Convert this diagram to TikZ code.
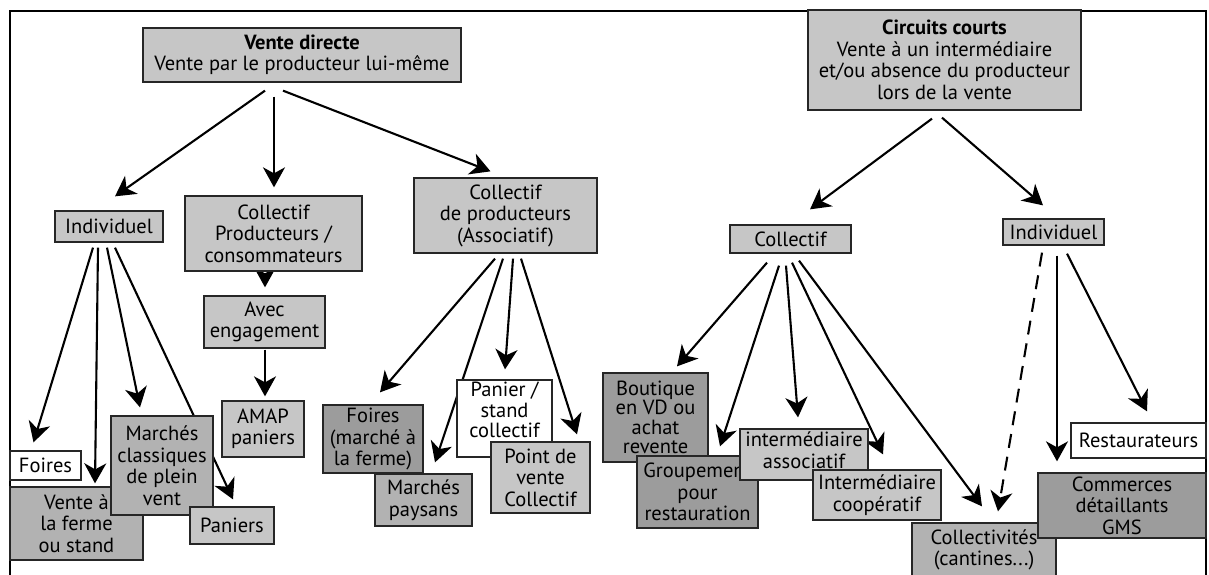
\documentclass[tikz,border=0pt]{standalone}
\usepackage{fontspec}
\setmainfont{PT Sans}
\usetikzlibrary{calc,arrows.meta}
\pgfdeclarelayer{bg}
\pgfsetlayers{bg,main}
\definecolor{gA}{HTML}{C6C6C6}
\definecolor{gB}{HTML}{B2B2B2}
\definecolor{gC}{HTML}{9C9C9C}
\tikzset{
  bx/.style={draw=black!85, line width=1.3pt, inner sep=0pt, align=center,
    font=\fontsize{20.5}{21.5}\selectfont},
  lt/.style={bx, fill=gA},
  md/.style={bx, fill=gB},
  dk/.style={bx, fill=gC},
  wt/.style={bx, fill=white},
  arr/.style={line width=2.1pt, -{Stealth[length=20pt,width=22pt,inset=6pt]}},
  frame/.style={line width=1.6pt}
}
% \bxn[extra]{style}{x1}{y1}{x2}{y2}{name}{text}
\newcommand\bxn[7][]{%
  \node[#2, #1, minimum width={(#5-#3)*1pt}, minimum height={(#6-#4)*1pt}]
    (#7) at ({(#3+#5)/2},{(#4+#6)/2})}
\begin{document}
\begin{tikzpicture}[x=1pt,y=-1pt]
\useasboundingbox (0,0) rectangle (1209,575);
\begin{pgfonlayer}{bg}
\fill[white] (0,0) rectangle (1209,575);
\end{pgfonlayer}
\draw[frame] (10,576) -- (10,11) -- (1206,11) -- (1206,576);

% left part
\bxn{lt}{143}{28}{461}{82}{vd} {\textbf{Vente directe}\\Vente par le producteur lui-même};
\bxn{lt}{55}{211}{163}{242}{ind1} {Individuel};
\bxn{lt}{185}{196}{362}{271}{cpc} {Collectif\\Producteurs /\\consommateurs};
\bxn{lt}{204}{296}{325}{348}{avec} {Avec\\engagement};
\bxn{lt}{222}{401}{304}{457}{amap} {AMAP\\paniers};
\bxn{wt}{10}{451}{81}{480}{foi} {Foires};
\bxn{md}{10}{487}{143}{560}{vaf} {Vente à\\la ferme\\ou stand};
\bxn{md}{111}{416}{213}{515}{mc} {Marchés\\classiques\\de plein\\vent};
\bxn{lt}{190}{507}{274}{544}{pan} {Paniers};

\bxn{lt}{414}{178}{597}{253}{cdp} {Collectif\\de producteurs\\(Associatif)};
\bxn{dk}{323}{405}{423}{473}{fm} {Foires\\(marché à\\la ferme)};
\bxn{md}{375}{474}{472}{526}{mp} {Marchés\\paysans};
\bxn[font=\fontsize{20.5}{20.5}\selectfont, text depth=17pt]{wt}{457}{380}{552}{457}{psc} {Panier /\\stand\\collectif};
\bxn{lt}{491}{442}{590}{513}{pvc} {Point de\\vente\\Collectif};

% right part
\bxn{lt}{808}{10}{1081}{110}{cc} {\textbf{Circuits courts}\\Vente à un intermédiaire\\et/ou absence du producteur\\lors de la vente};
\bxn{lt}{730}{225}{851}{253}{col} {Collectif};
\bxn{lt}{1003}{219}{1104}{245}{ind2} {Individuel};
\bxn[font=\fontsize{20.5}{19.5}\selectfont]{dk}{603}{373}{708}{462}{bvd} {Boutique\\en VD ou\\achat\\revente};
\bxn{dk}{637}{456}{758}{528}{grp} {Groupement\\pour\\restauration};
\bxn[text depth=9pt]{lt}{740}{429}{868}{480}{ia} {intermédiaire\\associatif};
\bxn{lt}{813}{470}{941}{520}{ic} {Intermédiaire\\coopératif};
\bxn{md}{912}{523}{1056}{577}{clt} {Collectivités\\(cantines...)};
\bxn{wt}{1071}{423}{1206}{458}{rest} {Restaurateurs};
\bxn{dk}{1038}{473}{1206}{538}{cds} {Commerces\\détaillants\\GMS};

\begin{pgfonlayer}{bg}
\draw[arr] ($(vd.south)+(-37,8)$) -- ($(ind1.north)+(6,-14)$);
\draw[arr] ($(vd.south)+(-28,14)$) -- ($(cpc.north)+(0.5,-8)$);
\draw[arr] ($(vd.south)+(-19,8)$) -- ($(cdp.north)+(-15,-6)$);
\draw[arr] ($(cpc.south)+(-8.5,1)$) -- ($(avec.north)+(0.5,-8)$);
\draw[arr] ($(avec.south)+(0.5,1)$) -- ($(amap.north)+(2,-4)$);
\draw[arr] ($(ind1.south)+(-16,5)$) -- ($(foi.north)+(-12,-8)$);
\draw[arr] ($(ind1.south)+(-11,5)$) -- ($(vaf.north)+(18.5,-3)$);
\draw[arr] ($(ind1.south)+(-2,5)$) -- ($(mc.north)+(-22,-8)$);
\draw[arr] ($(ind1.south)+(6,5)$) -- ($(pan.north)+(1,-7)$);
\draw[arr] ($(cdp.south)+(-10.5,5)$) -- ($(fm.north)+(7,-12)$);
\draw[arr] ($(cdp.south)+(-2.5,5)$) -- ($(mp.north)+(11.5,-11)$);
\draw[arr] ($(cdp.south)+(7.5,5)$) -- ($(psc.north)+(0.5,-10)$);
\draw[arr] ($(cdp.south)+(15.5,5)$) -- ($(pvc.north)+(36.5,-7)$);
\draw[arr] ($(cc.south)+(-12.5,8)$) -- ($(col.north)+(19.5,-15)$);
\draw[arr] ($(cc.south)+(-2.5,7)$) -- ($(ind2.north)+(-10.5,-13)$);
\draw[arr] ($(col.south)+(-23.5,9)$) -- ($(bvd.north)+(21.5,-6)$);
\draw[arr] ($(col.south)+(-11.5,12)$) -- ($(grp.north)+(22.5,-9)$);
\draw[arr] ($(col.south)+(-4.5,12)$) -- ($(ia.north)+(-6,-11)$);
\draw[arr] ($(col.south)+(1.5,9)$) -- ($(ic.north)+(6,-15)$);
\draw[arr] ($(col.south)+(8.5,7)$) -- ($(clt.north)+(-2,-16)$);
\draw[arr, dash pattern=on 14pt off 9pt] ($(ind2.south)+(-11.5,7)$) -- ($(clt.north)+(14,-11)$);
\draw[arr] ($(ind2.south)+(3.5,10)$) -- ($(cds.north)+(-65,-11)$);
\draw[arr] ($(ind2.south)+(13.5,8)$) -- ($(rest.north)+(8.5,-11)$);
\end{pgfonlayer}
\end{tikzpicture}
\end{document}
